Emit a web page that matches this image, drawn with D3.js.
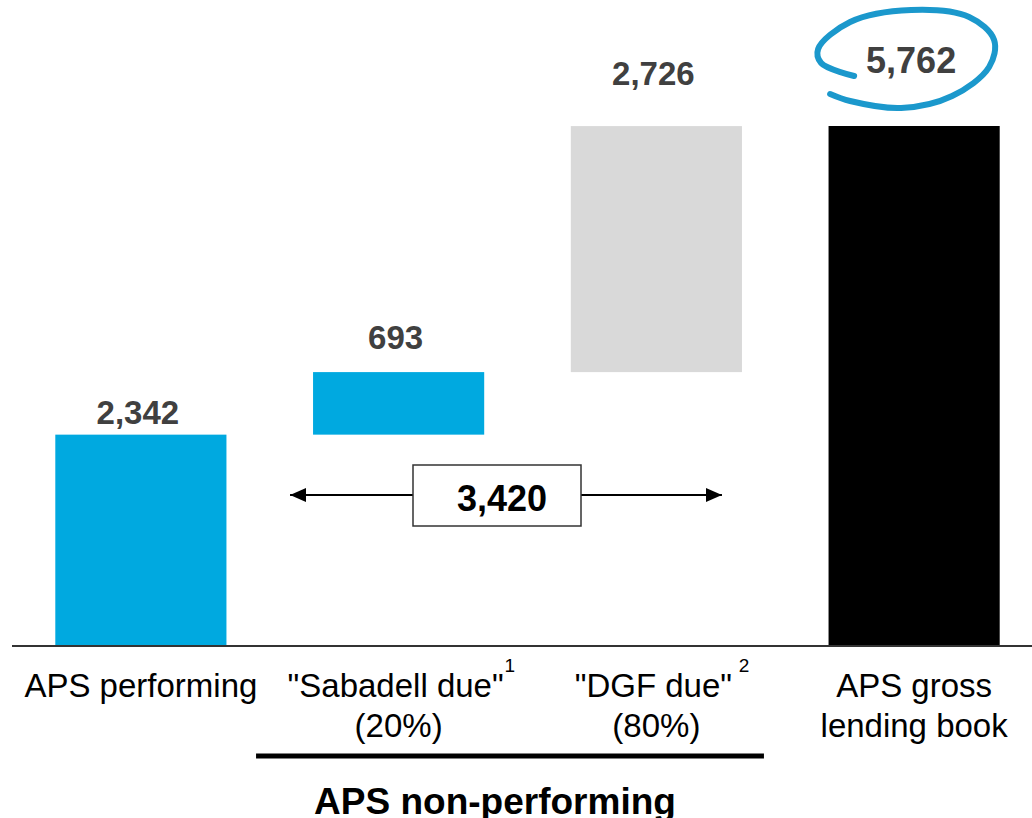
<!DOCTYPE html>
<html>
<head>
<meta charset="utf-8">
<script src="https://cdn.jsdelivr.net/npm/d3@7"></script>
<style>
  html, body { margin: 0; padding: 0; background: #fff; }
  svg { display: block; }
  text { font-family: "Liberation Sans", Arial, Helvetica, sans-serif; }
</style>
</head>
<body>
<svg id="chart" width="1032" height="818"></svg>
<script>
// ---- data ----
const categories = ["APS performing", "Sabadell due", "DGF due", "APS gross lending book"];
const labelLine1 = ["APS performing", "\"Sabadell due\"", "\"DGF due\"", "APS gross"];
const labelLine2 = ["", "(20%)", "(80%)", "lending book"];
const footnotes = ["", "1", "2", ""];
const values = [2342, 693, 2726, 5762];
const isTotal = [false, false, false, true];
const valueLabels = ["2,342", "693", "2,726", "5,762"];
const nonPerformingTotal = 3420;
const nonPerformingLabel = "3,420";
const groupTitle = "APS non-performing";

// ---- layout / style ----
const W = 1032, H = 818;
const colors = ["#00a9e0", "#00a9e0", "#d9d9d9", "#000000"];
const labelGap = [11, 23, 41, 53];
const labelSize = [33, 33, 33, 36];

const svg = d3.select("#chart");

const x = d3.scaleBand().domain(categories).range([12, 1043])
  .paddingInner(0.336).paddingOuter(0.168);
const y = d3.scaleLinear().domain([0, 5762]).range([646, 126]);

// waterfall bases
let run = 0;
const bars = categories.map((c, i) => {
  let lo, hi;
  if (isTotal[i]) { lo = 0; hi = values[i]; }
  else { lo = run; hi = run + values[i]; run = hi; }
  return { c, i, lo, hi };
});

svg.selectAll("rect.bar").data(bars).enter().append("rect")
  .attr("class", "bar")
  .attr("x", d => x(d.c))
  .attr("width", x.bandwidth())
  .attr("y", d => y(d.hi))
  .attr("height", d => y(d.lo) - y(d.hi))
  .attr("fill", (d, i) => colors[i]);

// baseline
svg.append("line")
  .attr("x1", 12).attr("x2", W)
  .attr("y1", y(0)).attr("y2", y(0))
  .attr("stroke", "#333").attr("stroke-width", 2);

// value labels
svg.selectAll("text.val").data(bars).enter().append("text")
  .attr("class", "val")
  .attr("x", d => x(d.c) + x.bandwidth() / 2 - 3)
  .attr("y", d => y(d.hi) - labelGap[d.i])
  .attr("text-anchor", "middle")
  .attr("font-weight", "bold")
  .attr("font-size", d => labelSize[d.i])
  .attr("fill", "#404040")
  .text(d => valueLabels[d.i]);

// hand-drawn circle around total label
{
  const tb = bars[3];
  const cx = x(tb.c) + x.bandwidth() / 2 - 8, cy = y(tb.hi) - 67;
  const pts = [[-52,17],[-85,4],[-88,-10],[-56,-37],[5,-49],[63,-42],[88,-19],[83,8],[46,37],[-5,49],[-56,42],[-76,35]];
  const line = d3.line().curve(d3.curveCatmullRom.alpha(0.5))
    .x(p => cx + p[0]).y(p => cy + p[1]);
  svg.append("path").attr("d", line(pts))
    .attr("fill", "none").attr("stroke", "#1b98cc")
    .attr("stroke-width", 6).attr("stroke-linecap", "round");
}

// category labels
const lab = svg.append("g").attr("font-size", 33).attr("fill", "#000").attr("text-anchor", "middle");
categories.forEach((c, i) => {
  const cxp = x(c) + x.bandwidth() / 2;
  const dx = (i === 1 || i === 2) ? -3 : 0;
  const t1 = lab.append("text").attr("x", cxp + dx).attr("y", 697).text(labelLine1[i]);
  if (labelLine2[i]) lab.append("text").attr("x", cxp).attr("y", 737).text(labelLine2[i]);
  if (footnotes[i]) {
    const w = t1.node().getComputedTextLength();
    lab.append("text").attr("x", cxp + dx + w / 2 + (i === 1 ? 6 : 12)).attr("y", 672)
      .attr("font-size", 19).attr("text-anchor", "middle").text(footnotes[i]);
  }
});

// group underline & title
const gx0 = x(categories[1]) - 57, gx1 = x(categories[2]) + x.bandwidth() + 22;
svg.append("line").attr("x1", gx0).attr("x2", gx1).attr("y1", 756).attr("y2", 756)
  .attr("stroke", "#000").attr("stroke-width", 5);
svg.append("text").attr("x", (gx0 + gx1) / 2 - 15).attr("y", 814)
  .attr("text-anchor", "middle").attr("font-weight", "bold").attr("font-size", 37)
  .attr("fill", "#000").text(groupTitle);

// double arrow with boxed total
{
  const ay = 495;
  const ax0 = x(categories[1]) - 23, ax1 = x(categories[2]) + x.bandwidth() - 20;
  const bx0 = 413, bx1 = 581;
  const defs = svg.append("defs");
  defs.append("marker").attr("id", "ah").attr("viewBox", "0 0 16 14")
    .attr("refX", 16).attr("refY", 7).attr("markerWidth", 16).attr("markerHeight", 14)
    .attr("markerUnits", "userSpaceOnUse").attr("orient", "auto-start-reverse")
    .append("path").attr("d", "M0,0 L16,7 L0,14 Z").attr("fill", "#000");
  svg.append("line").attr("x1", bx0).attr("x2", ax0).attr("y1", ay).attr("y2", ay)
    .attr("stroke", "#000").attr("stroke-width", 2.2).attr("marker-end", "url(#ah)");
  svg.append("line").attr("x1", bx1).attr("x2", ax1).attr("y1", ay).attr("y2", ay)
    .attr("stroke", "#000").attr("stroke-width", 2.2).attr("marker-end", "url(#ah)");
  svg.append("rect").attr("x", bx0).attr("y", 465).attr("width", bx1 - bx0).attr("height", 61)
    .attr("fill", "#fff").attr("stroke", "#333").attr("stroke-width", 1.5);
  svg.append("text").attr("x", (bx0 + bx1) / 2 + 5).attr("y", 511)
    .attr("text-anchor", "middle").attr("font-weight", "bold").attr("font-size", 36)
    .attr("fill", "#000").text(nonPerformingLabel);
}
</script>
</body>
</html>
